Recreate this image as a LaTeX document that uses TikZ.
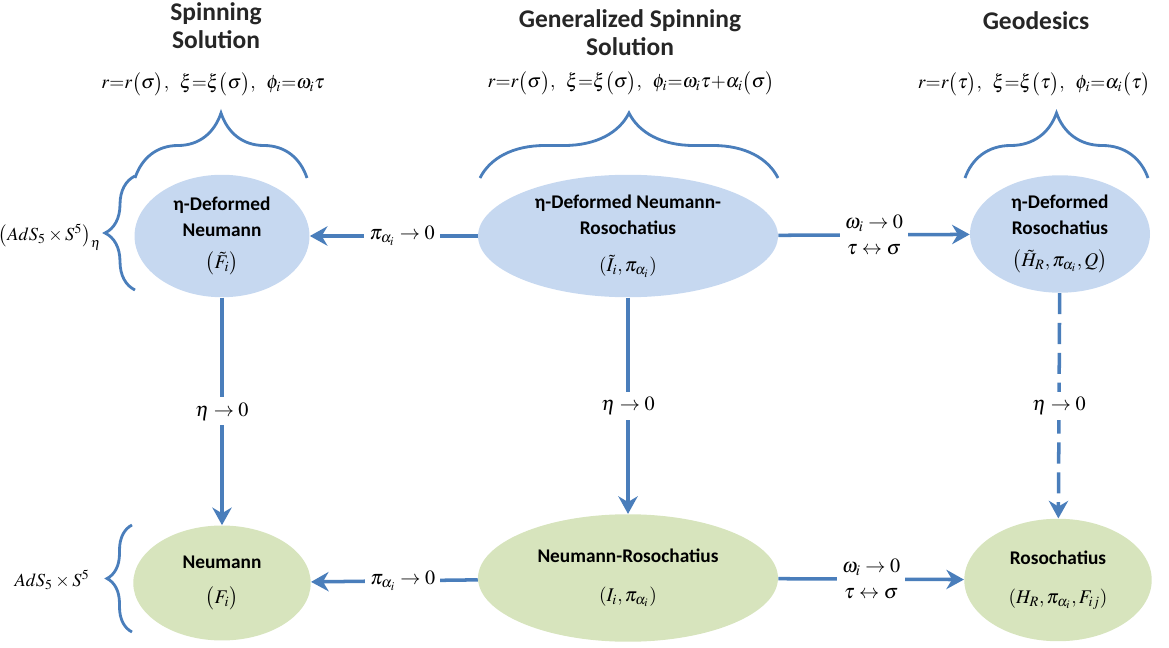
\documentclass[tikz,border=0pt]{standalone}
\usepackage{mathptmx}
\usepackage{fontspec}
\setmainfont{Carlito}
\usetikzlibrary{shapes,arrows.meta,positioning,decorations.pathreplacing}
\definecolor{linkblue}{RGB}{74,126,187}
\definecolor{ellblue}{RGB}{198,216,240}
\definecolor{ellgreen}{RGB}{215,228,189}

\begin{document}
\begin{tikzpicture}[x=0.02cm, y=-0.02cm]
    % Define styles
    \tikzstyle{system}=[ellipse,inner sep=0pt,align=center,font=\fontsize{11}{15}\selectfont\bfseries]
    \tikzstyle{deformed}=[system,fill=ellblue]
    \tikzstyle{undeformed}=[system,fill=ellgreen]
    \tikzstyle{line}=[draw=linkblue,line width=2pt,-{Stealth[length=10pt,width=11pt]}]
    \tikzstyle{limit}=[fill=white,inner sep=3pt,align=center,font=\fontsize{11.5}{15}\selectfont]
    \tikzstyle{heading}=[align=center,text=black!85,font=\fontsize{14.5}{16}\selectfont\bfseries]
    \tikzstyle{ansatz}=[font=\fontsize{11}{14}\selectfont]
    \tikzstyle{bracket}=[draw=linkblue,line width=1.6pt,decorate,decoration={brace}]

    \useasboundingbox (0,0) rectangle (1169,648);

    % Headings and ansatz
    \node [heading] (spinhead) at (216,26) {Spinning\\Solution};
    \node [heading] (genhead) at (630,33) {Generalized Spinning\\Solution};
    \node [heading] (geohead) at (1036,21) {Geodesics};
    \node [ansatz] (spinans) at (213,84) {$r{=}r\big(\sigma\big),\;\; \xi{=}\xi\big(\sigma\big),\;\; \phi_i{=}\omega_i\tau$};
    \node [ansatz] (genans) at (631,83) {$r{=}r\big(\sigma\big),\;\; \xi{=}\xi\big(\sigma\big),\;\; \phi_i{=}\omega_i\tau{+}\alpha_i\big(\sigma\big)$};
    \node [ansatz] (geoans) at (1034,84) {$r{=}r\big(\tau\big),\;\; \xi{=}\xi\big(\tau\big),\;\; \phi_i{=}\alpha_i\big(\tau\big)$};

    % Deformed systems
    \node [deformed,minimum width=3.5cm,minimum height=2.45cm] (dn) at (222,236) {η-Deformed\\Neumann\\[3pt]$\big(\tilde{F}_i\big)$};
    \node [deformed,minimum width=6cm,minimum height=2.45cm] (dnr) at (628,236) {η-Deformed Neumann-\\Rosochatius\\[6pt]$(\tilde{I}_i,\pi_{\alpha_i})$};
    \node [deformed,minimum width=3.6cm,minimum height=2.35cm] (dr) at (1060,234) {η-Deformed\\Rosochatius\\[3pt]$\big(\tilde{H}_R,\pi_{\alpha_i},Q\big)$};

    % Undeformed systems
    \node [undeformed,minimum width=3.55cm,minimum height=2.3cm] (n) at (222,583) {Neumann\\[5pt]$\big(F_i\big)$};
    \node [undeformed,minimum width=6cm,minimum height=2.55cm] (nr) at (628,578) {Neumann-Rosochatius\\[7pt]$(I_i,\pi_{\alpha_i})$};
    \node [undeformed,minimum width=3.75cm,minimum height=2.45cm] (r) at (1058,580) {Rosochatius\\[7pt]$(H_R,\pi_{\alpha_i},F_{ij})$};

    % Backgrounds
    \node [limit,fill=none,font=\fontsize{10.5}{13}\selectfont] (etaback) at (50,237) {$\left(AdS_5\times S^5\right)_\eta$};
    \node [limit,fill=none,font=\fontsize{10.5}{13}\selectfont] (flatback) at (52,580) {$AdS_5\times S^5$};

    % Braces
    \draw [bracket,decoration={amplitude=1.3cm}] (135,178) -- (307,178);
    \draw [bracket,decoration={amplitude=1.3cm}] (480,178) -- (778,178);
    \draw [bracket,decoration={amplitude=1.3cm}] (965,178) -- (1148,178);
    \draw [bracket,decoration={amplitude=0.6cm}] (135,290) -- (135,176);
    \draw [bracket,decoration={amplitude=0.5cm}] (132,632) -- (132,525);

    % Define connections
    \path [line] (dnr) -- node [limit,pos=0.45] {$\pi_{\alpha_i}\to 0$} (dn);
    \path [line] (dnr) -- node [limit] {$\omega_i\to 0$\\$\tau\leftrightarrow\sigma$} (dr);
    \path [line] (nr) -- node [limit,pos=0.45] {$\pi_{\alpha_i}\to 0$} (n);
    \path [line] (nr) -- node [limit] {$\omega_i\to 0$\\$\tau\leftrightarrow\sigma$} (r);
    \path [line] (dn) -- node [limit] {$\eta\to 0$} (n);
    \path [line] (dnr) -- node [limit] {$\eta\to 0$} (nr);
    \path [line,dash pattern=on 12pt off 5pt] (dr) -- node [limit] {$\eta\to 0$} (r);
\end{tikzpicture}
\end{document}
